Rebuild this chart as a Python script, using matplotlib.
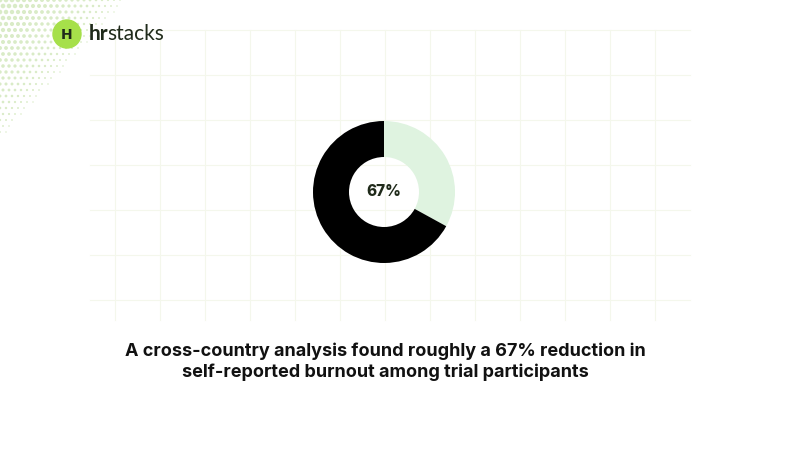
import matplotlib
matplotlib.use("Agg")
import matplotlib.pyplot as plt
import numpy as np
from matplotlib.patches import Circle

labels = ["Reduction", "Remaining"]
values = [67, 33]
colors = ["#000000", "#dff3e0"]
center_label = "67%"
caption = "A cross-country analysis found roughly a 67% reduction in\nself-reported burnout among trial participants"

W, H = 790, 450
fig = plt.figure(figsize=(7.9, 4.5), dpi=100)
bg = fig.add_axes([0, 0, 1, 1])
bg.set_xlim(0, W); bg.set_ylim(H, 0); bg.axis("off")

# faint grid
for x in np.arange(115, 700, 45):
    bg.plot([x, x], [30, 320], color="#f4f7ec", lw=0.8, zorder=0)
for y in np.arange(30, 330, 45):
    bg.plot([90, 690], [y, y], color="#f4f7ec", lw=0.8, zorder=0)

# halftone dots top-left
xs, ys, ss = [], [], []
for i in range(0, 130, 6):
    for j in range(0, 145, 6):
        off = 3 if (j // 6) % 2 else 0
        x = i + off
        d = x / 125 + j / 140
        if d < 1:
            xs.append(x); ys.append(j); ss.append(11 * (1 - d) + 1)
bg.scatter(xs, ys, s=ss, color="#d3e8bd", alpha=0.85, lw=0, zorder=1)

# logo
bg.add_patch(Circle((67, 34), 14, color="#a6e04a", zorder=3))
bg.text(67, 35, "H", ha="center", va="center", fontsize=10, fontweight="bold",
        color="#1f2a1a", family="DejaVu Sans", zorder=4)
bg.text(89, 34, "hr", ha="left", va="center", fontsize=15, fontweight="bold",
        color="#1f2a1a", family="Lato")
bg.text(107, 34, "stacks", ha="left", va="center", fontsize=15,
        color="#1f2a1a", family="Lato")

# donut
cx, cy, r = 384, 192, 71
pax = fig.add_axes([(cx - r) / W, (H - cy - r) / H, 2 * r / W, 2 * r / H])
pax.pie(values[::-1], colors=colors[::-1], startangle=90, counterclock=False,
        wedgeprops=dict(width=36 / 71, linewidth=0))
pax.set_xlim(-1, 1); pax.set_ylim(-1, 1)
pax.set_aspect("equal")
pax.text(0, 0, center_label, ha="center", va="center", fontsize=11,
         fontweight="heavy", color="#1f2a1a", family="Inter")

bg.text(385, 362, caption, ha="center", va="center", fontsize=13,
        fontweight="bold", color="#111111", family="Inter", linespacing=1.25)

fig.savefig("out.png", dpi=100, facecolor="white")
